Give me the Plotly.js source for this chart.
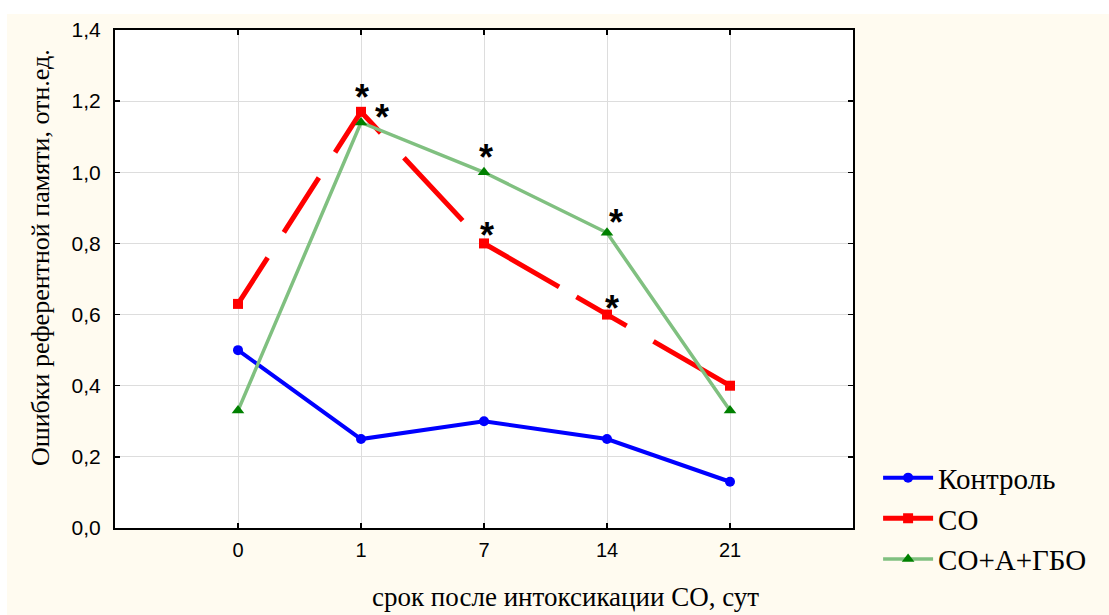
<!DOCTYPE html>
<html>
<head>
<meta charset="utf-8">
<script src="https://cdn.plot.ly/plotly-3.0.1.min.js"></script>
<style>html,body{margin:0;padding:0;background:#fff;}#chart{width:1109px;height:615px;}</style>
</head>
<body>
<div id="chart"></div>
<script>
// Data
const categories = ['0', '1', '7', '14', '21'];
const seriesNames = ['Контроль', 'CO', 'CO+A+ГБО'];
const control = [0.50, 0.25, 0.30, 0.25, 0.13];
const co = [0.63, 1.17, 0.80, 0.60, 0.40];
const coAGbo = [0.33, 1.14, 1.00, 0.83, 0.33];
const yTickVals = [0, 0.2, 0.4, 0.6, 0.8, 1.0, 1.2, 1.4];
const yTickText = ['0,0', '0,2', '0,4', '0,6', '0,8', '1,0', '1,2', '1,4'];
// significance marks: [series index, category index]
const starMarks = [[1, 1], [2, 1], [2, 2], [1, 2], [2, 3], [1, 3]];

const allSeries = [control, co, coAGbo];
const starOffsets = [[1, 14], [21, 5], [2, 15], [3, 8], [9, 10], [5, 6]];

const traces = [
  {x: categories, y: control, name: seriesNames[0], type: 'scatter', mode: 'lines+markers',
   line: {color: '#0000FF', width: 4}, marker: {color: '#0000FF', symbol: 'circle', size: 10}},
  {x: categories, y: co, name: seriesNames[1], type: 'scatter', mode: 'lines+markers',
   line: {color: '#FF0000', width: 5, dash: '55px,30px,65px,30px,77px,34px,86px,30px,88px,20px,58px,31px,200px,10px'},
   marker: {color: '#FF0000', symbol: 'square', size: 10}},
  {x: categories, y: coAGbo, name: seriesNames[2], type: 'scatter', mode: 'lines+markers',
   line: {color: '#80C080', width: 3.5}, marker: {color: '#008000', symbol: 'triangle-up', size: 11}}
];

const annotations = starMarks.map((m, i) => ({
  x: m[1], y: allSeries[m[0]][m[1]], xref: 'x', yref: 'y',
  text: '<b>*</b>', showarrow: false, xshift: starOffsets[i][0], yshift: starOffsets[i][1],
  font: {family: 'Liberation Sans, Arial, sans-serif', size: 36, color: '#000'},
  xanchor: 'center', yanchor: 'middle'
}));
annotations.push({
  text: 'Ошибки референтной памяти, отн.ед.', xref: 'paper', yref: 'paper',
  x: -0.1016, y: 0.542, textangle: -90, showarrow: false, xanchor: 'center', yanchor: 'middle',
  font: {family: 'Liberation Serif, Times New Roman, serif', size: 26, color: '#000'}
});
annotations.push({
  text: 'срок после интоксикации СО, сут', xref: 'paper', yref: 'paper',
  x: 0.611, y: -0.1386, showarrow: false, xanchor: 'center', yanchor: 'middle',
  font: {family: 'Liberation Serif, Times New Roman, serif', size: 27, color: '#000'}
});

const layout = {
  width: 1109, height: 615,
  margin: {l: 115, r: 256, t: 30, b: 87},
  paper_bgcolor: '#FFFBF0', plot_bgcolor: '#FFFFFF',
  showlegend: true,
  legend: {x: 1.034, y: 0.152, xanchor: 'left', yanchor: 'top', bgcolor: 'rgba(0,0,0,0)',
    itemwidth: 50, font: {family: 'Liberation Serif, Times New Roman, serif', size: 29, color: '#000'}},
  xaxis: {type: 'category', range: [-1, 5], showgrid: true, gridcolor: '#DDDDDD', gridwidth: 1,
    showline: true, linecolor: '#000', linewidth: 2, mirror: 'ticks', ticks: 'inside', ticklen: 5,
    tickcolor: '#000', tickwidth: 1.5, zeroline: false, ticklabelstandoff: 3,
    tickfont: {family: 'Liberation Sans, Arial, sans-serif', size: 20, color: '#000'}},
  yaxis: {range: [0, 1.4], tickvals: yTickVals, ticktext: yTickText, showgrid: true, gridcolor: '#DDDDDD',
    gridwidth: 1, showline: true, linecolor: '#000', linewidth: 2, mirror: 'ticks', ticks: 'inside',
    ticklen: 5, tickcolor: '#000', tickwidth: 1.5, zeroline: false, ticklabelstandoff: 8,
    tickfont: {family: 'Liberation Sans, Arial, sans-serif', size: 21, color: '#000'}},
  annotations: annotations,
  shapes: [
    {type: 'rect', xref: 'paper', yref: 'paper', x0: -0.2, x1: 1.4, y0: 1 + 16 / 498, y1: 1 + 31 / 498,
     fillcolor: '#FFFFFF', line: {width: 0}, layer: 'below'},
    {type: 'rect', xref: 'paper', yref: 'paper', x0: -115 / 738, x1: -108 / 738, y0: -0.2, y1: 1.1,
     fillcolor: '#FFFFFF', line: {width: 0}, layer: 'below'}
  ]
};

Plotly.newPlot('chart', traces, layout, {displayModeBar: false, staticPlot: true});
</script>
</body>
</html>
